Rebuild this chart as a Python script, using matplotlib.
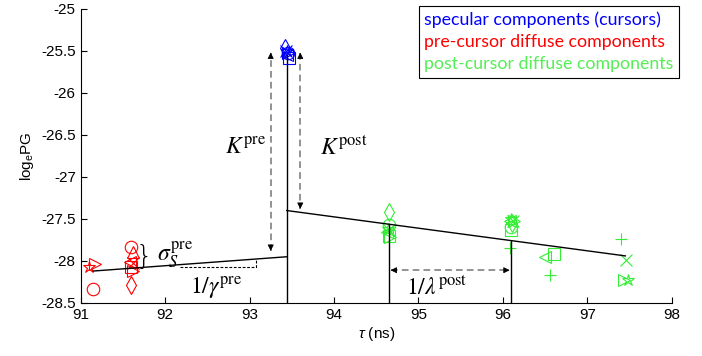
import matplotlib
matplotlib.use("Agg")
import matplotlib.pyplot as plt
import numpy as np

plt.rcParams['font.family'] = ['Liberation Sans', 'DejaVu Sans']
plt.rcParams['mathtext.fontset'] = 'custom'
plt.rcParams['mathtext.rm'] = 'Liberation Sans'
plt.rcParams['mathtext.it'] = 'Liberation Sans:italic'

# specular components (cursors)
spec_t = [93.42, 93.44, 93.45, 93.43, 93.46, 93.47, 93.44]
spec_v = [-25.46, -25.50, -25.52, -25.50, -25.53, -25.58, -25.55]
spec_m = ['d', '*', 'o', 'x', '>', 's', '<']

# pre-cursor diffuse components
pre_t = [91.10, 91.17, 91.15, 91.60, 91.62, 91.58, 91.62, 91.60, 91.62, 91.60]
pre_v = [-28.07, -28.04, -28.33, -27.83, -27.89, -28.01, -28.02, -28.07, -28.12, -28.29]
pre_m = ['*', '>', 'o', 'o', '^', '<', 'x', 's', '>', 'd']

# post-cursor diffuse components
post_t = [94.65, 94.65, 94.64, 94.66, 94.63, 94.65, 94.65,
          96.10, 96.12, 96.08, 96.11, 96.13, 96.10, 96.10, 96.08,
          96.50, 96.60, 96.56, 97.40, 97.46, 97.43, 97.48]
post_v = [-27.42, -27.57, -27.62, -27.72, -27.66, -27.70, -27.63,
          -27.50, -27.52, -27.52, -27.55, -27.52, -27.60, -27.63, -27.85,
          -27.95, -27.92, -28.17, -27.74, -27.99, -28.23, -28.23]
post_m = ['d', 'o', '*', '>', '<', 's', 'x',
          '*', 'x', '<', 'd', '>', 'o', 's', '+',
          '<', 's', '+', '+', 'x', '>', '*']

# fitted model lines
pre_fit_t = [91.15, 93.44]
pre_fit_v = [-28.12, -27.95]
post_fit_t = [93.44, 97.45]
post_fit_v = [-27.40, -27.94]
cursor_t = 93.44
cursor_v = -25.55
post_marks = [94.65, 96.10]

blue = '#0000ff'
red = '#ff0000'
green = '#33ee33'

fig = plt.figure(figsize=(7.02, 3.56), dpi=100)
ax = fig.add_axes([0.115, 0.149, 0.842, 0.826])

ymin, ymax = -28.5, -25

mstyle = dict(mfc='none', ms=9, mew=0.8, ls='none')
for t, v, m in zip(spec_t, spec_v, spec_m):
    ax.plot(t, v, marker=m, color=blue, **mstyle)
for t, v, m in zip(pre_t, pre_v, pre_m):
    ax.plot(t, v, marker=m, color=red, **mstyle)
for t, v, m in zip(post_t, post_v, post_m):
    ax.plot(t, v, marker=m, color=green, **mstyle)

# model lines
ax.plot(pre_fit_t, pre_fit_v, color='k', lw=1)
ax.plot(post_fit_t, post_fit_v, color='k', lw=1)
ax.plot([cursor_t, cursor_t], [ymin, cursor_v], color='k', lw=1)
for t in post_marks:
    ax.plot([t, t], [ymin, np.interp(t, post_fit_t, post_fit_v)], color='k', lw=1)

gray = '#808080'


def dashed_arrow(x0, y0, x1, y1, both=False):
    ax.plot([x0, x1], [y0, y1], color=gray, lw=1.2, ls=(0, (4, 2.5)))
    ends = [(x1, y1, x0, y0)]
    if both:
        ends.append((x0, y0, x1, y1))
    for xa, ya, xb, yb in ends:
        ax.annotate('', xy=(xa, ya), xytext=(xa + (xb - xa) * 0.02, ya + (yb - ya) * 0.02),
                    arrowprops=dict(arrowstyle='-|>', color='k', lw=0.6,
                                    mutation_scale=9, shrinkA=0, shrinkB=0))


# K arrows
dashed_arrow(93.25, -27.88, 93.25, -25.52, both=True)
dashed_arrow(93.60, -25.52, 93.60, -27.38, both=True)
# 1/lambda arrow
dashed_arrow(94.67, -28.11, 96.08, -28.11, both=True)

# 1/gamma slope marker
ax.plot([92.17, 93.08, 93.08], [-28.07, -28.07, -27.98], color='k', lw=0.8, ls=(0, (2.5, 1.5)))

mk = dict(math_fontfamily='stix', fontsize=17)
ax.text(92.95, -26.66, r'$K^{\mathrm{pre}}$', ha='center', va='center', **mk)
ax.text(94.12, -26.66, r'$K^{\mathrm{post}}$', ha='center', va='center', **mk)
ax.text(92.60, -28.32, r'$1/\gamma^{\mathrm{pre}}$', ha='center', va='center', **mk)
ax.text(95.22, -28.33, r'$1/\lambda^{\mathrm{post}}$', ha='center', va='center', **mk)
ax.text(91.90, -27.93, r'$\sigma_S^{\mathrm{pre}}$', ha='left', va='center', **mk)
ax.text(91.75, -27.95, '}', ha='center', va='center', fontsize=19, family='DejaVu Sans',
        fontweight='light')

ax.set_xlim(91, 98)
ax.set_ylim(ymin, ymax)
ax.set_xticks(np.arange(91, 99, 1))
ax.set_yticks(np.arange(-28.5, -24.9, 0.5))
ax.set_yticklabels(['-28.5', '-28', '-27.5', '-27', '-26.5', '-26', '-25.5', '-25'])
ax.tick_params(labelsize=11, direction='in', length=4, width=0.8, top=False, right=False)
for s in ['top', 'right']:
    ax.spines[s].set_visible(False)
for s in ['left', 'bottom']:
    ax.spines[s].set_linewidth(0.8)
ax.set_xlabel(r'$\tau$ (ns)', fontsize=11, labelpad=2)
ax.set_ylabel(r'log$_{\mathrm{e}}$PG', fontsize=11, labelpad=4)

# legend (text only)
leg_labels = ['specular components (cursors)', 'pre-cursor diffuse components',
              'post-cursor diffuse components']
leg_colors = [blue, red, '#55ee55']
handles = [plt.Line2D([], [], ls='none') for _ in leg_labels]
leg = ax.legend(handles, leg_labels, loc='upper right', bbox_to_anchor=(679 / 702, 1 - 6 / 356),
                bbox_transform=fig.transFigure, borderaxespad=0, handlelength=0, handletextpad=0,
                labelcolor=leg_colors, fancybox=False, edgecolor='k', framealpha=1,
                prop={'family': 'Lato', 'size': 12.8}, borderpad=0.3, labelspacing=0.35)
leg.get_frame().set_linewidth(0.8)

fig.savefig('out.png', dpi=100)
